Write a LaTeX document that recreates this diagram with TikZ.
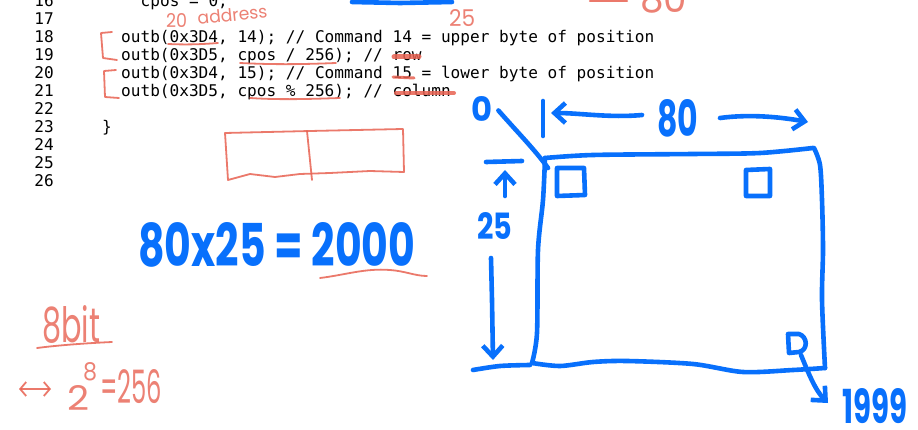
\documentclass[tikz,border=0pt]{standalone}
\usepackage{fontspec}
\usepackage{graphicx}
\setmonofont{DejaVu Sans Mono}
\newfontfamily\handfont{Poppins}
\usetikzlibrary{arrows.meta}
\definecolor{ink}{RGB}{8,112,252}
\definecolor{pencil}{RGB}{232,98,82}
\begin{document}
\begin{tikzpicture}[x=1pt,y=-1pt,line cap=round,line join=round,
  code/.style={anchor=base west,inner sep=0pt,font=\fontsize{16.1}{18}\selectfont\ttfamily},
  lnum/.style={anchor=base east,inner sep=0pt,font=\fontsize{16.1}{18}\selectfont\ttfamily},
  blue ink/.style={draw=ink,line width=4.6pt},
  red pencil/.style={draw=pencil,line width=1.8pt,opacity=0.85},
  bluetext/.style={anchor=base west,inner sep=0pt,text=ink,font=\handfont\bfseries},
  redtext/.style={anchor=base west,inner sep=0pt,text=pencil,font=\handfont,opacity=0.8},
  barb/.style={-{Straight Barb[length=11pt,width=20pt]}}]
\useasboundingbox[fill=white] (0,0) rectangle (918,430);

% ---------------- code listing ----------------
\foreach \n/\y in {16/7,17/25,18/43,19/61,20/79,21/97,22/115,23/133,24/151,25/169,26/187}
  \node[lnum] (ln\n) at (54,\y) {\n};
\node[code] (c16) at (140.5,7)  {cpos = 0;};
\node[code] (c18) at (121,43) {outb(0x3D4, 14); // Command 14 = upper byte of position};
\node[code] (c19) at (121,61) {outb(0x3D5, cpos / 256); // row};
\node[code] (c20) at (121,79) {outb(0x3D4, 15); // Command 15 = lower byte of position};
\node[code] (c21) at (121,97) {outb(0x3D5, cpos \% 256); // column};
\node[code] (c23) at (102,133) {\}};

% ---------------- red pencil annotations ----------------
\node[redtext] (t20) at (166,28) {\resizebox{21pt}{14pt}{20}};
\node[redtext,rotate=6] (taddr) at (198,25) {\resizebox{70pt}{13pt}{address}};
\node[redtext] (t25r) at (449,27) {\resizebox{26pt}{17pt}{25}};
\node[redtext] (t80r) at (640,13) {\resizebox{47pt}{28pt}{80}};
\draw[red pencil,line width=2.4pt] (590,1) -- (627,1);

\draw[red pencil] (112,32) -- (101,33) -- (103,58) -- (117,60);
\draw[red pencil] (116,70) -- (104,71) -- (105,97) -- (119,98);
\draw[red pencil] (168,44) .. controls (190,45) and (205,44) .. (218,43);
\draw[red pencil] (240,63) .. controls (280,65) and (310,64) .. (336,63);
\draw[red pencil,line width=5pt] (394,57) -- (419,57);
\draw[red pencil,line width=3pt] (393,77) -- (414,78);
\draw[red pencil] (250,98) .. controls (280,100) and (310,99) .. (340,98);
\draw[red pencil,line width=4pt] (396,93) -- (454,93);

% two-byte box
\draw[red pencil] (225,133) -- (310,131) -- (403,129) -- (404,172)
  -- (370,171) -- (330,173) -- (300,174) -- (275,177) -- (250,174) -- (228,180) -- cycle;
\draw[red pencil] (307,131) -- (312,180);

% underline of 2000
\draw[red pencil] (320,278) .. controls (345,275) and (365,268) .. (390,270)
  .. controls (405,271) and (415,276) .. (427,276);

% 8bit / 2^8 = 256
\node[redtext] (t8bit) at (42,342) {\resizebox{58pt}{37pt}{8bit}};
\draw[red pencil] (37,348) .. controls (60,345) and (90,343) .. (112,342);
\draw[red pencil,{Straight Barb[length=6pt,width=14pt]}-{Straight Barb[length=6pt,width=14pt]}] (19,389) -- (51,389);
\node[redtext] (t2) at (67,410) {\resizebox{22pt}{25pt}{2}};
\node[redtext] (t8) at (83,380) {\resizebox{14pt}{18pt}{8}};
\node[redtext] (t256) at (100,403) {\resizebox{62pt}{34pt}{=256}};

% ---------------- blue ink ----------------
\draw[blue ink] (352,2) -- (400,3) -- (452,2);
\node[bluetext] (formula) at (138,267) {\resizebox{277pt}{44pt}{80x25 = 2000}};

% screen rectangle
\draw[blue ink] plot[smooth,tension=0.5] coordinates {
  (545,158) (593,155) (693,154) (760,153) (813,148)};
\draw[blue ink] plot[smooth,tension=0.5] coordinates {
  (814,148) (820,165) (822,200) (823,250) (822,300) (825,368)};
\draw[blue ink] plot[smooth,tension=0.5] coordinates {
  (825,368) (793,370) (743,372) (693,364) (627,361) (593,362) (560,366) (532,363)};
\draw[blue ink] plot[smooth,tension=0.5] coordinates {
  (532,363) (537,333) (538,250) (543,200) (545,158)};
\draw[blue ink] plot[smooth,tension=0.5] coordinates {(473,370) (500,366) (530,365)};

% cells
\draw[blue ink] (557,168) -- (584,168) -- (585,195) -- (557,196) -- cycle;
\draw[blue ink] (746,170) -- (770,169) -- (770,196) -- (746,196) -- cycle;
\draw[blue ink] (789,353) -- (788,334) -- (799,334) .. controls (808,337) and (808,350) .. (799,352) -- cycle;

% 0 label and pointer
\node[bluetext] (t0) at (471,122) {\resizebox{21pt}{25pt}{0}};
\coordinate (firstcell) at (548,168);
\draw[blue ink] (t0.east) ++(6,1) .. controls (520,135) and (535,150) .. (firstcell);

% 80 dimension
\draw[blue ink] (543,101) -- (543,136);
\node[bluetext] (t80) at (657,137) {\resizebox{41pt}{37pt}{80}};
\coordinate (l80) at (551,113);
\coordinate (r80) at (808,122);
\draw[blue ink,barb] (642,115) .. controls (610,118) and (580,113) .. (l80);
\draw[blue ink,barb] (720,118) .. controls (750,114) and (780,117) .. (r80);

% 25 dimension
\draw[blue ink] (486,162) -- (522,161);
\coordinate (top25) at (505,170);
\draw[blue ink,barb] (505,196) -- (top25);
\node[bluetext] (t25) at (477,240) {\resizebox{35pt}{27pt}{25}};
\coordinate (bot25) at (493,360);
\draw[blue ink,barb] (491,258) -- (492,300) -- (bot25);

% last cell -> 1999
\node[bluetext] (t1999) at (842,423) {\resizebox{65pt}{35pt}{1999}};
\coordinate (end1999) at (828,403);
\draw[blue ink,barb] (801,355) .. controls (808,372) and (815,390) .. (end1999);
\end{tikzpicture}
\end{document}
